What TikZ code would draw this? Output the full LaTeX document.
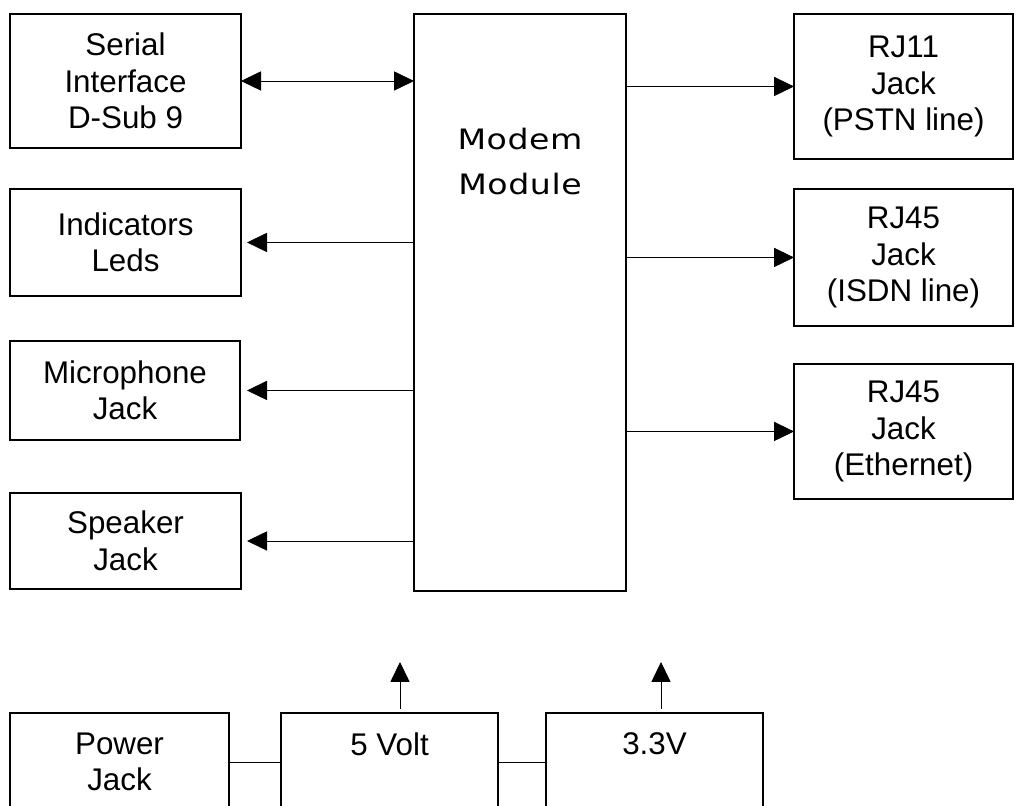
\documentclass[tikz,border=0pt]{standalone}
\usepackage{fontspec}
\setmainfont{Liberation Sans}
\newfontfamily\modemfont[FakeStretch=1.18, LetterSpace=2]{DejaVu Sans}
\usetikzlibrary{arrows.meta}
\tikzset{
  block/.style={draw=black, line width=0.8pt, inner sep=0pt, outer sep=0pt, align=center, font=\fontsize{22.3}{26}\selectfont},
  blocklabel/.style={font=\fontsize{22.3}{26}\selectfont, align=center},
  modemlabel/.style={font=\modemfont\fontsize{20}{32}\selectfont, align=center},
  wire/.style={line width=0.6pt},
  signal/.style={line width=0.6pt, -{Triangle[length=0.5cm,width=0.48cm]}},
  duplex/.style={line width=0.6pt, {Triangle[length=0.5cm,width=0.48cm]}-{Triangle[length=0.5cm,width=0.48cm]}},
}
\begin{document}
\begin{tikzpicture}
\useasboundingbox (0,0) rectangle (25.475,20.15);
\clip (0,0) rectangle (25.475,20.15);
% left column
\node[block, minimum width=5.775cm, minimum height=3.35cm] (serial) at (3.138,18.125) {Serial\\Interface\\D-Sub 9};
\node[block, minimum width=5.775cm, minimum height=2.675cm] (leds) at (3.138,14.088) {Indicators\\Leds};
\node[block, minimum width=5.75cm, minimum height=2.475cm] (mic) at (3.125,10.388) {Microphone\\Jack};
\node[block, minimum width=5.775cm, minimum height=2.4cm] (speaker) at (3.138,6.625) {Speaker\\Jack};
% modem
\node[block, minimum width=5.3cm, minimum height=14.425cm] (modem) at (13.0,12.588) {};
\node[modemlabel] (modemtext) at (13.0,16.1) {Modem\\Module};
% right column
\node[block, minimum width=5.475cm, minimum height=3.625cm] (rj11) at (22.588,17.988) {RJ11\\Jack\\(PSTN line)};
\node[block, minimum width=5.475cm, minimum height=3.425cm] (isdn) at (22.588,13.713) {RJ45\\Jack\\(ISDN line)};
\node[block, minimum width=5.475cm, minimum height=3.375cm] (eth) at (22.588,9.363) {RJ45\\Jack\\(Ethernet)};
% power supply
\node[block, minimum width=5.475cm, minimum height=2.45cm] (power) at (2.988,1.1) {Power\\Jack};
\node[block, minimum width=5.425cm, minimum height=2.45cm] (volt5) at (9.738,1.1) {};
\node[blocklabel] (volt5text) at ([yshift=-0.775cm]volt5.north) {5 Volt};
\node[block, minimum width=5.425cm, minimum height=2.45cm] (volt33) at (16.363,1.1) {};
\node[blocklabel] (volt33text) at ([yshift=-0.775cm]volt33.north) {3.3V};
\coordinate (volt5out) at (10.0,3.6);
\coordinate (volt33out) at (16.525,3.6);
% connections
\draw[duplex] (serial.east) -- (serial.east -| modem.west);
\draw[signal] (modem.west |- leds.east) -- ([xshift=0.15cm]leds.east);
\draw[signal] (modem.west |- mic.east) -- ([xshift=0.175cm]mic.east);
\draw[signal] (modem.west |- speaker.east) -- ([xshift=0.15cm]speaker.east);
\draw[signal] (modem.east |- rj11.west) -- (rj11.west);
\draw[signal] (modem.east |- isdn.west) -- (isdn.west);
\draw[signal] (modem.east |- eth.west) -- (eth.west);
\draw[wire] (power.east) -- (volt5.west);
\draw[wire] (volt5.east) -- (volt33.west);
\draw[signal] ([yshift=0.1cm]volt5.north -| volt5out) -- (volt5out);
\draw[signal] ([yshift=0.1cm]volt33.north -| volt33out) -- (volt33out);
\end{tikzpicture}
\end{document}
